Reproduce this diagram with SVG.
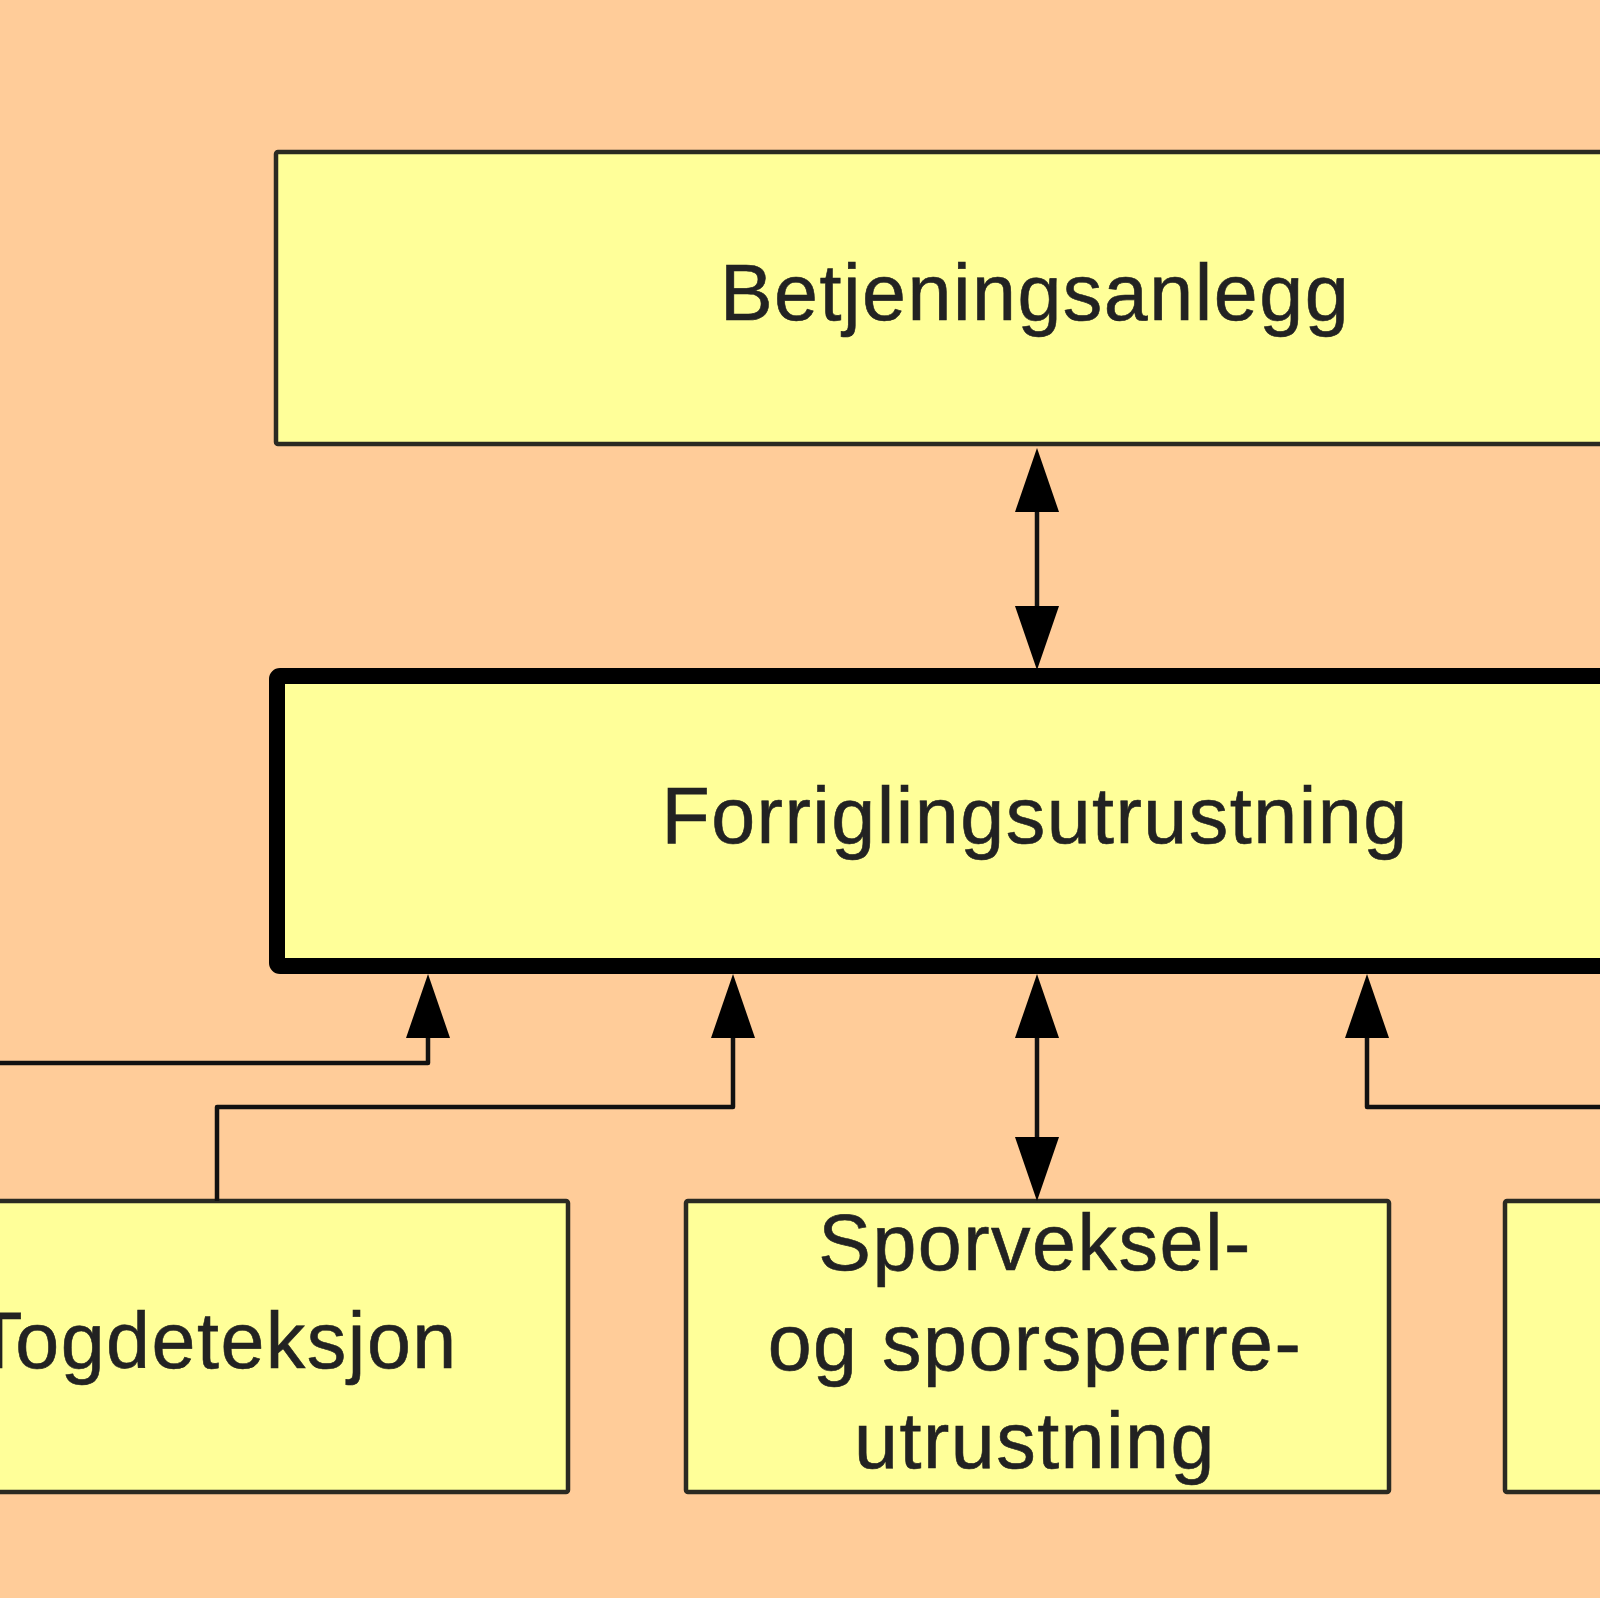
<svg xmlns="http://www.w3.org/2000/svg" width="1600" height="1598" viewBox="0 0 1600 1598">
  <style>
    .box { fill: #FFFF99; stroke: #2a2a22; stroke-width: 4.5; stroke-linejoin: round; }
    .main { stroke-width: 16; stroke: #000; }
    .lbl { font-family: "Liberation Sans", Arial, sans-serif; font-size: 79px; letter-spacing: 1.5px; fill: #222; stroke: #222; stroke-width: 0.6; text-anchor: middle; }
    .conn { fill: none; stroke: #111; stroke-width: 4.5; stroke-linejoin: round; }
  </style>
  <defs>
    <marker id="arrow" viewBox="0 0 64 44" refX="0" refY="22" markerWidth="64" markerHeight="44" markerUnits="userSpaceOnUse" orient="auto-start-reverse">
      <path d="M0,0 L64,22 L0,44 z" fill="#000"/>
    </marker>
  </defs>
  <rect x="0" y="0" width="1600" height="1598" fill="#FFCC99"/>

  <g id="betjeningsanlegg">
    <rect class="box" x="276" y="152" width="1522" height="292" rx="2"/>
    <text class="lbl" x="1035" y="320">Betjeningsanlegg</text>
  </g>

  <g id="forriglingsutrustning">
    <rect class="box main" x="277" y="676" width="1520" height="290" rx="3"/>
    <text class="lbl" x="1035" y="843">Forriglingsutrustning</text>
  </g>

  <g id="togdeteksjon">
    <rect class="box" x="-135" y="1201" width="703" height="291" rx="2"/>
    <text class="lbl" x="216" y="1368">Togdeteksjon</text>
  </g>

  <g id="sporveksel">
    <rect class="box" x="686" y="1201" width="703" height="291" rx="2"/>
    <text class="lbl" x="1035" y="1270">Sporveksel-</text>
    <text class="lbl" x="1035" y="1370">og sporsperre-</text>
    <text class="lbl" x="1035" y="1468">utrustning</text>
  </g>

  <g id="right-box">
    <rect class="box" x="1505" y="1201" width="703" height="291" rx="2"/>
  </g>

  <g id="connectors">
    <path class="conn" d="M1037,512 L1037,606" marker-start="url(#arrow)" marker-end="url(#arrow)"/>
    <path class="conn" d="M-20,1063 L428,1063 L428,1038" marker-end="url(#arrow)"/>
    <path class="conn" d="M217,1201 L217,1107 L733,1107 L733,1038" marker-end="url(#arrow)"/>
    <path class="conn" d="M1037,1038 L1037,1137" marker-start="url(#arrow)" marker-end="url(#arrow)"/>
    <path class="conn" d="M1620,1107 L1367,1107 L1367,1038" marker-end="url(#arrow)"/>
  </g>
</svg>
